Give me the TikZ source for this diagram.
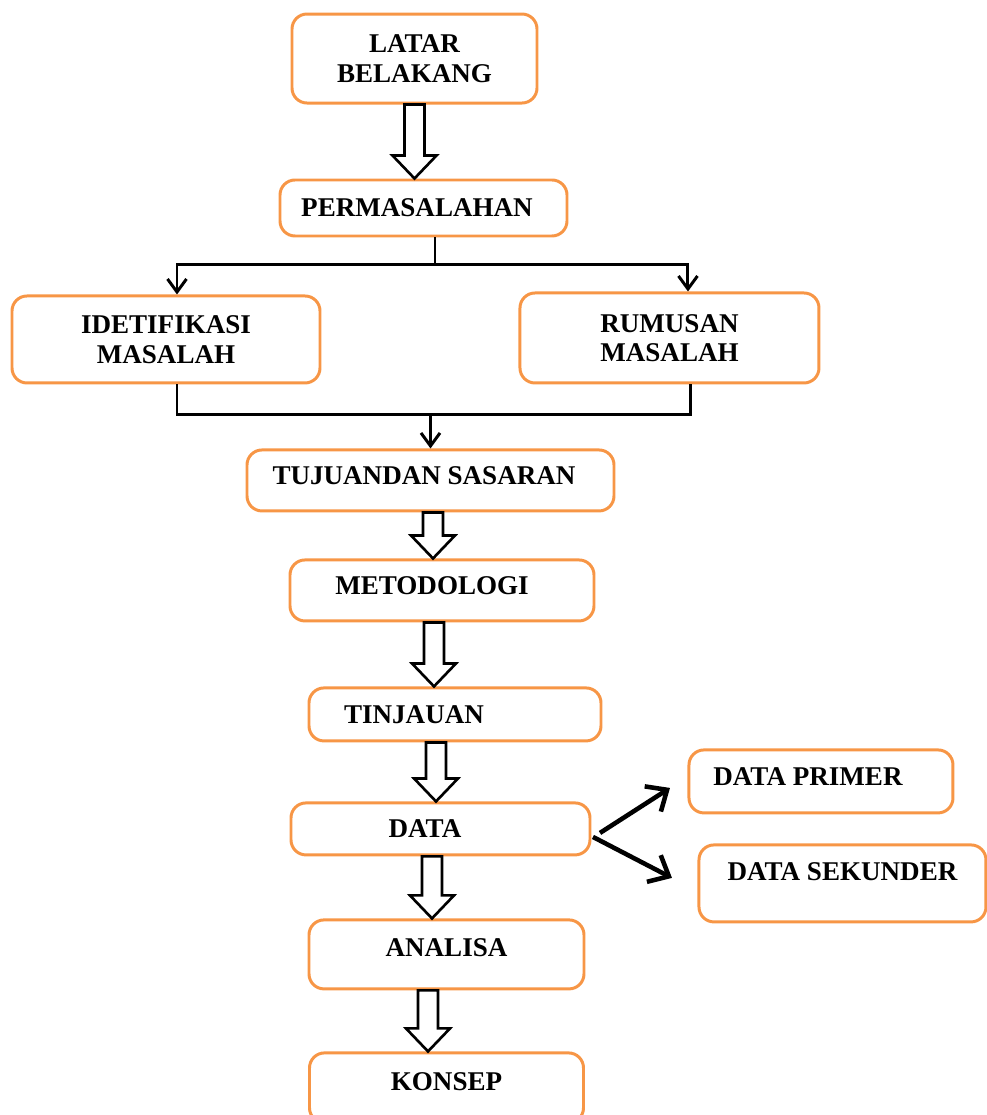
\documentclass[tikz,border=0pt]{standalone}
\usepackage{fontspec}
\setmainfont{Liberation Serif}
\usetikzlibrary{positioning, calc, arrows.meta}
\definecolor{boxorange}{RGB}{247,150,70}

\tikzset{
  box/.style={rectangle, rounded corners=3mm, draw=boxorange, line width=1.7pt,
    fill=white, align=center, inner sep=0pt,
    font=\fontsize{15.4}{16.8}\selectfont\bfseries},
  conn/.style={line width=1.7pt},
  tip/.style={conn, -{Straight Barb[length=2.6mm,width=3.8mm]}},
  hollow/.style={line width=1.5pt, fill=white, line join=miter},
  fork/.style={line width=2.6pt, -{Straight Barb[length=3.4mm,width=6mm]}},
}

% hollow block arrow from #1 down to #2, x shifted by #3
\newcommand{\hollowarrow}[3]{%
  \draw[hollow] let \p1=($(#1.south)+(#3,0)$), \p2=(#2.north) in
    (\x1-2mm,\y1) -- (\x1-2mm,\y2+4.6mm) -- (\x1-4.4mm,\y2+4.6mm) -- (\x1,\y2)
    -- (\x1+4.4mm,\y2+4.6mm) -- (\x1+2mm,\y2+4.6mm) -- (\x1+2mm,\y1) -- cycle;}

\begin{document}
\begin{tikzpicture}
  \useasboundingbox (0,0) rectangle (19.74,-22.3);

  \node[box, minimum width=4.9cm, minimum height=1.78cm] (lb) at (8.29,-1.17) {LATAR\\BELAKANG};

  \node[box, below=1.48cm of lb, xshift=1.8mm,
  minimum width=5.74cm, minimum height=1.12cm] (pm) {PERMASALAHAN\hspace*{2.6mm}};

  \node[box, below=1.14cm of pm, xshift=-51.5mm,
  minimum width=6.16cm, minimum height=1.74cm] (im) {IDETIFIKASI\\MASALAH};

  \node[box, right=3.94cm of im, yshift=0.3mm,
  minimum width=5.98cm, minimum height=1.8cm] (rm) {RUMUSAN\\MASALAH};

  \node[box, below=1.28cm of im, xshift=52.9mm,
  minimum width=7.34cm, minimum height=1.22cm, text depth=1.8mm] (ts) {TUJUANDAN SASARAN\hspace*{2.6mm}};

  \node[box, below=0.92cm of ts, xshift=2.3mm,
  minimum width=6.08cm, minimum height=1.22cm, text depth=1.8mm] (mt) {METODOLOGI\hspace*{4mm}};

  \node[box, below=1.28cm of mt, xshift=2.6mm,
  minimum width=5.84cm, minimum height=1.06cm] (tj) {TINJAUAN\hspace*{16.4mm}};

  \node[box, below=1.18cm of tj, xshift=-2.9mm,
  minimum width=5.98cm, minimum height=1.04cm] (dt) {DATA\hspace*{6.2mm}};

  \node[box, right=1.92cm of dt, yshift=9.5mm,
  minimum width=5.28cm, minimum height=1.26cm, text depth=1.8mm] (dp) {DATA PRIMER\hspace*{5.2mm}};

  \node[box, right=2.12cm of dt, yshift=-10.9mm,
  minimum width=5.74cm, minimum height=1.54cm, text depth=4.6mm] (ds) {DATA SEKUNDER};

  \node[box, below=1.24cm of dt, xshift=1.2mm,
  minimum width=5.5cm, minimum height=1.38cm, text depth=2.6mm] (an) {ANALISA};

  \node[box, below=1.22cm of an,
  minimum width=5.48cm, minimum height=1.4cm, text depth=2.4mm] (ks) {KONSEP};

  % split and merge lines
  \coordinate (split) at ($(pm.south)+(2.3mm,-5.4mm)$);
  \draw[conn] (split |- pm.south) -- (split);
  \draw[tip] (split) -| ([xshift=2.2mm]im.north);
  \draw[tip] (split) -| ([xshift=3.7mm]rm.north);

  \coordinate (merge) at ($([xshift=2.2mm]im.south)+(0,-6mm)$);
  \draw[conn] ([xshift=2.2mm]im.south) -- (merge) -| ([xshift=4.3mm]rm.south);
  \draw[tip] (ts.north |- merge) -- (ts.north);

  % hollow arrows
  \hollowarrow{lb}{pm}{0}
  \hollowarrow{ts}{mt}{0.05}
  \hollowarrow{mt}{tj}{-0.16}
  \hollowarrow{tj}{dt}{-0.38}
  \hollowarrow{dt}{an}{-0.17}
  \hollowarrow{an}{ks}{-0.37}

  % data fork
  \draw[fork] ([shift={(0.17,-0.08)}]dt.east) -- ([shift={(-0.35,-0.13)}]dp.west);
  \draw[fork] ([shift={(0.03,-0.16)}]dt.east) -- ([shift={(-0.51,0.11)}]ds.west);
\end{tikzpicture}
\end{document}
